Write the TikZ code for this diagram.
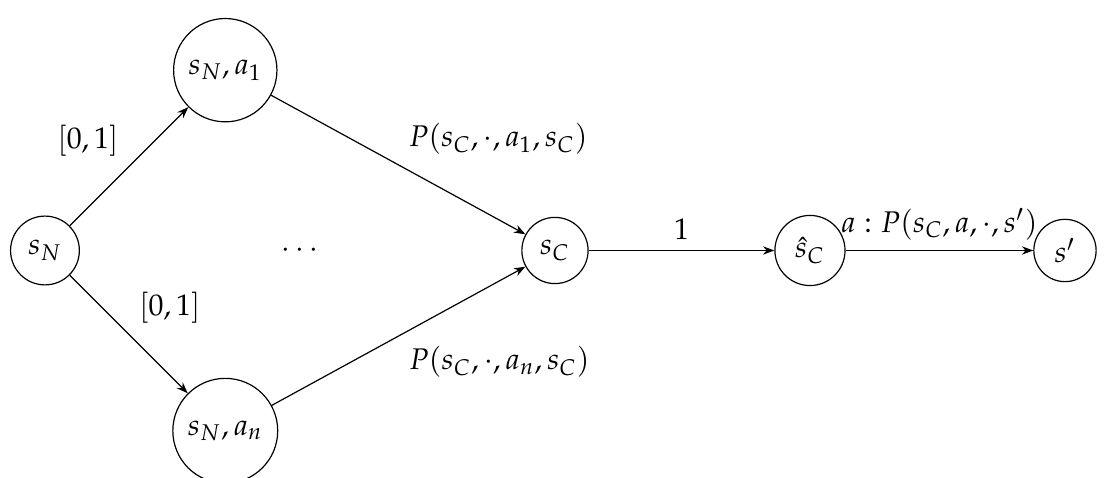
\documentclass[tikz,border=0pt]{standalone}
\usepackage{mathpazo}
\usetikzlibrary{arrows.meta,positioning}
\tikzset{
  state/.style = {circle, draw, inner sep=3.6pt},
  trans/.style = {-{Stealth[length=3.8pt,width=2.8pt]}},
}

\begin{document}
\begin{tikzpicture}[node distance=3cm, on grid]
  \useasboundingbox (-0.529,-2.676) rectangle (12.565,2.947);
  % states
  \node[state] (sN) {$s_N$};
  \node[state, above right=of sN] (sNa1) {$s_N,a_1$};
  \node[state, below right=of sN] (sNan) {$s_N,a_n$};
  \node[right=of sN] (dots) {$\cdots$};
  \node[state, right=of dots] (sC) {$s_C$};
  \node[state, right=of sC] (hsC) {$\hat{s}_C$};
  \node[state, right=of hsC] (sp) {$s'$};

  % transitions
  \draw[trans] (sN) -- node[above left] (w1) {$[0,1]$} (sNa1);
  \draw[trans] (sN) -- node[above right] (wn) {$[0,1]$} (sNan);
  \draw[trans] (sNa1) -- node[above right] (p1) {$P(s_C,\cdot,a_1,s_C)$} (sC);
  \draw[trans] (sNan) -- node[below right] (pn) {$P(s_C,\cdot,a_n,s_C)$} (sC);
  \draw[trans] (sC) -- node[above] (one) {$1$} (hsC);
  \draw[trans] (hsC) -- node[above] (pa) {$a:P(s_C,a,\cdot,s')$} (sp);
\end{tikzpicture}
\end{document}
